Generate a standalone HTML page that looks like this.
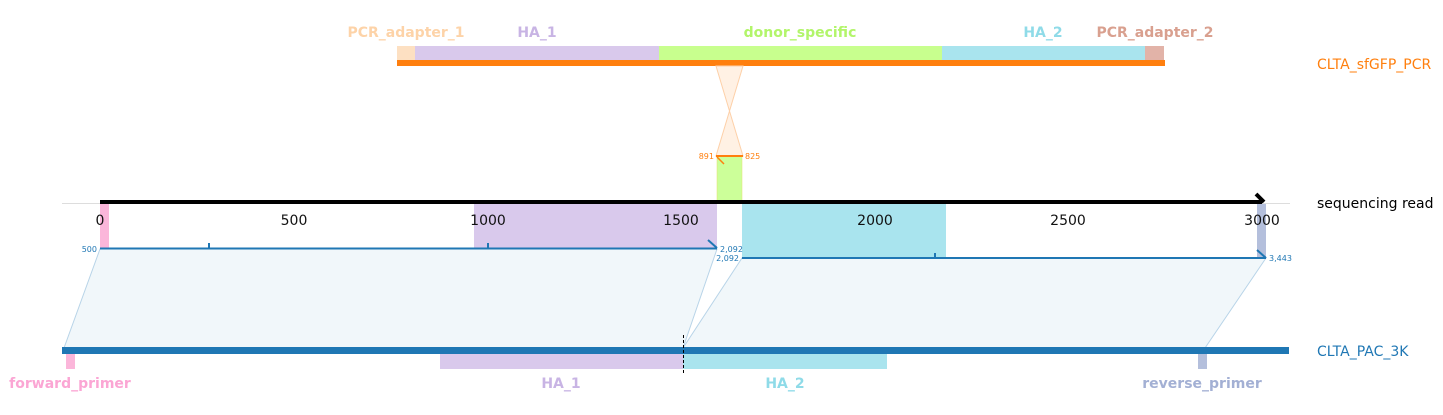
<!DOCTYPE html>
<html><head><style>body{margin:0;background:#fff}svg{display:block;font-family:"DejaVu Sans","Liberation Sans",sans-serif}</style></head><body>
<svg width="1443" height="415" viewBox="0 0 1443 415">
<g font-size="14" font-weight="bold" text-anchor="middle">
<text x="406" y="37" fill="#fdd3a8">PCR_adapter_1</text>
<text x="537" y="37" fill="#c8b4e4">HA_1</text>
<text x="800" y="37" fill="#b2f56a">donor_specific</text>
<text x="1043" y="37" fill="#8fdbe8">HA_2</text>
<text x="1155" y="37" fill="#d9a08f">PCR_adapter_2</text>
</g>
<rect x="397" y="46" width="18" height="15" fill="#fde0c2"/>
<rect x="415" y="46" width="244" height="15" fill="#d9c9ec"/>
<rect x="659" y="46" width="283" height="15" fill="#c8ff8e"/>
<rect x="942" y="46" width="203" height="15" fill="#a9e4ee"/>
<rect x="1145" y="46" width="19" height="15" fill="#e2b3a8"/>
<rect x="397" y="60" width="768" height="6" fill="#ff7f0e"/>
<polygon points="716,66 743,66 716,156 743,156" fill="#fff1e4" stroke="#fdd0a8" stroke-width="1"/>
<rect x="717" y="156" width="25" height="46" fill="#ccff99" stroke="#e6e070" stroke-width="0.5"/>
<line x1="716" y1="156" x2="743" y2="156" stroke="#ff7f0e" stroke-width="2"/>
<line x1="717" y1="157" x2="724" y2="164" stroke="#ff7f0e" stroke-width="1.5"/>
<text x="714" y="159" font-size="8" fill="#ff7f0e" text-anchor="end">891</text>
<text x="745" y="159" font-size="8" fill="#ff7f0e">825</text>
<line x1="62" y1="203.5" x2="1290" y2="203.5" stroke="#ddd" stroke-width="1"/>
<rect x="100" y="204" width="9" height="44" fill="#fbb6da"/>
<rect x="474" y="204" width="243" height="44" fill="#d9c9ec"/>
<rect x="742" y="204" width="204" height="54" fill="#a9e4ee"/>
<rect x="1257" y="204" width="9" height="54" fill="#b4bfdc"/>
<polygon points="100,249 717,249 683,348 64,348" fill="#f1f7fa" stroke="#b8d4e8" stroke-width="1"/>
<polygon points="742,258 1266,258 1205,348 683,348" fill="#f1f7fa" stroke="#b8d4e8" stroke-width="1"/>
<line x1="100" y1="202" x2="1262" y2="202" stroke="#000" stroke-width="4"/>
<polyline points="1256,194 1264,202" stroke="#000" stroke-width="4" fill="none"/>
<g font-size="14" text-anchor="middle" fill="#111">
<text x="100" y="225">0</text><text x="294" y="225">500</text><text x="488" y="225">1000</text><text x="681" y="225">1500</text><text x="875" y="225">2000</text><text x="1068" y="225">2500</text><text x="1262" y="225">3000</text>
</g>
<text x="1317" y="208" font-size="14" fill="#000">sequencing read</text>
<g stroke="#1f77b4" stroke-width="2" fill="none">
<line x1="100" y1="248.5" x2="717" y2="248.5"/>
<line x1="708" y1="240" x2="717" y2="248"/>
<line x1="209" y1="243" x2="209" y2="248"/><line x1="488" y1="243" x2="488" y2="248"/>
<line x1="742" y1="258" x2="1266" y2="258"/>
<line x1="1257" y1="250" x2="1266" y2="258"/>
<line x1="935" y1="253" x2="935" y2="258"/>
</g>
<g font-size="8" fill="#1f77b4">
<text x="97" y="252" text-anchor="end">500</text>
<text x="720" y="252">2,092</text>
<text x="739" y="261" text-anchor="end">2,092</text>
<text x="1269" y="261">3,443</text>
</g>
<rect x="62" y="347" width="1227" height="7" fill="#1f77b4"/>
<rect x="66" y="354" width="9" height="15" fill="#fbb6da"/>
<rect x="440" y="354" width="243" height="15" fill="#d9c9ec"/>
<rect x="683" y="354" width="204" height="15" fill="#a9e4ee"/>
<rect x="1198" y="354" width="9" height="15" fill="#b4bfdc"/>
<line x1="683.5" y1="335" x2="683.5" y2="374" stroke="#000" stroke-width="1" stroke-dasharray="3,2"/>
<g font-size="14" font-weight="bold" text-anchor="middle">
<text x="70" y="388" fill="#fba6d4">forward_primer</text>
<text x="561" y="388" fill="#c8b4e4">HA_1</text>
<text x="785" y="388" fill="#8fdbe8">HA_2</text>
<text x="1202" y="388" fill="#a3b0d4">reverse_primer</text>
</g>
<text x="1317" y="69" font-size="14" fill="#ff7f0e">CLTA_sfGFP_PCR</text>
<text x="1317" y="356" font-size="14" fill="#1f77b4">CLTA_PAC_3K</text>
</svg>
</body></html>
